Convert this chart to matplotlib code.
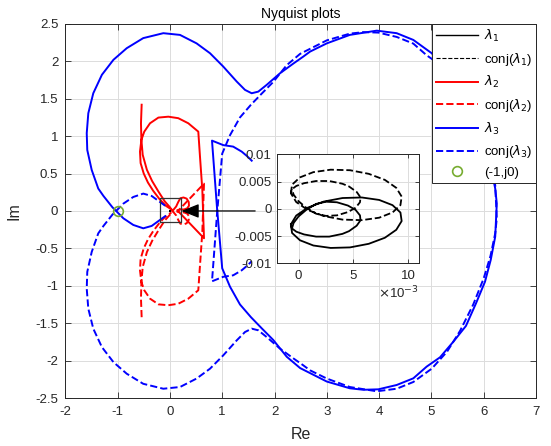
import numpy as np
import matplotlib
matplotlib.use("Agg")
import matplotlib.pyplot as plt
from matplotlib.ticker import FixedFormatter

plt.rcParams['font.family'] = ['Liberation Sans', 'DejaVu Sans']
plt.rcParams['mathtext.fontset'] = 'dejavusans'

# ---- data ----
# lambda_3 (solid); conj(lambda_3) is its mirror about the real axis
l3_re = [-0.09, -0.19, -0.348, -0.509, -0.70, -0.89, -1.10, -1.27, -1.37, -1.495, -1.58, -1.59,
         -1.56, -1.465, -1.30, -1.08, -0.826, -0.51, -0.126, 0.193, 0.51, 0.767, 1.02, 1.277,
         1.436, 1.564, 1.69, 1.85, 2.105, 2.36, 2.55, 2.68, 3.0, 3.44, 3.955, 4.336, 4.654,
         5.006, 5.30, 5.55, 5.80, 6.00, 6.13, 6.22, 6.25, 6.235, 6.22, 6.134, 6.025, 5.853,
         5.66, 5.42, 5.165, 4.91, 4.654, 4.336, 3.985, 3.70, 3.44, 3.0, 2.49, 2.233, 1.977,
         1.755, 1.55, 1.34, 1.149, 1.0, 0.90, 0.805, 1.02, 1.21, 1.373, 1.48, 1.564]
l3_im = [-0.07, -0.12, -0.20, -0.232, -0.187, -0.098, 0.05, 0.20, 0.30, 0.548, 0.815, 1.04,
         1.306, 1.573, 1.82, 2.02, 2.175, 2.31, 2.376, 2.353, 2.24, 2.108, 1.93, 1.73,
         1.618, 1.573, 1.595, 1.685, 1.84, 1.97, 2.063, 2.13, 2.24, 2.353, 2.41, 2.376, 2.286,
         2.108, 1.88, 1.60, 1.25, 0.90, 0.60, 0.30, 0.10, -0.12, -0.343, -0.655, -0.945, -1.234,
         -1.537, -1.747, -1.956, -2.08, -2.237, -2.326, -2.384, -2.39, -2.37, -2.28, -2.10, -1.948, -1.725,
         -1.568, -1.42, -1.25, -1.012, -0.766, 0.05, 0.94, 0.88, 0.86, 0.793, 0.73, 0.672]

# lambda_2 (solid)
l2_re = [-0.54, -0.553, -0.545, -0.52, -0.44, -0.34, -0.22, -0.10, 0.0, 0.05,
         0.12, 0.16, 0.20, 0.26, 0.32, 0.36, 0.365, 0.33, 0.27, 0.20, 0.14,
         0.652, 0.62, 0.575, 0.543,
         0.352, 0.16, -0.03, -0.22, -0.38, -0.49, -0.545, -0.572, -0.56, -0.50, -0.42, -0.32,
         -0.20, -0.08, 0.03]
l2_im = [1.42, 1.17, 0.95, 0.75, 0.55, 0.40, 0.26, 0.13, 0.05, 0.0,
         0.06, 0.12, 0.17, 0.18, 0.165, 0.12, 0.07, 0.035, 0.02, 0.02, 0.01,
         -0.365, 0.28, 0.73, 1.06,
         1.172, 1.24, 1.26, 1.248, 1.172, 1.06, 0.95, 0.793, 0.64, 0.50, 0.38, 0.27,
         0.16, 0.07, 0.02]

# lambda_1 (solid), two loops very close to the origin (values in units of 1e-3)
l1_re = [-0.70, -0.59, 0.13, 1.35, 2.93, 4.69, 6.40, 7.87, 8.91, 9.40, 9.29, 8.57, 7.35,
         5.77, 4.01, 2.30, 0.835, -0.21, -0.70,
         -0.60, -0.20, 0.50, 1.60, 2.80, 4.00, 4.60, 5.30, 5.65, 5.60, 5.20, 4.50, 3.50,
         2.50, 1.60, 0.70, 0.0, -0.45, -0.60]
l1_im = [-2.85, -4.43, -5.77, -6.73, -7.18, -7.08, -6.42, -5.31, -3.85, -2.25, -0.68, 0.67, 1.63,
         2.08, 1.98, 1.33, 0.21, -1.24, -2.85,
         -3.60, -4.20, -4.70, -5.10, -5.10, -4.60, -4.10, -3.10, -2.10, -1.20, -0.20, 0.60, 1.20,
         1.30, 0.90, -0.20, -1.40, -2.60, -3.60]
l1_scale = 1e-3

crit_re, crit_im = [-1.0], [0.0]

labels = [r'$\lambda_1$', r'conj($\lambda_1$)', r'$\lambda_2$', r'conj($\lambda_2$)',
          r'$\lambda_3$', r'conj($\lambda_3$)', '(-1,j0)']

zoom_box_re = [-0.19, 0.207]
zoom_box_im = [-0.143, 0.17]
arrow_from = (1.63, 0.0)
arrow_to = (0.22, 0.0)

# ---- plotting ----
TXT = '#262626'
GREEN = '#77AC30'

l1x = [v * l1_scale for v in l1_re]
l1y = [v * l1_scale for v in l1_im]

def conj(v):
    return [-a for a in v]

fig = plt.figure(figsize=(5.51, 4.46), dpi=100)
ax = fig.add_axes([0.1185, 0.1076, 0.9728 - 0.1185, 0.9464 - 0.1076])

lw = 1.4
ax.plot(l1x, l1y, '-', color='k', lw=1.0, label=labels[0])
ax.plot(l1x, conj(l1y), '--', color='k', lw=0.8, label=labels[1])
ax.plot(l2_re, l2_im, '-', color='red', lw=lw, label=labels[2])
ax.plot(l2_re, conj(l2_im), '--', color='red', lw=lw, label=labels[3])
ax.plot(l3_re, l3_im, '-', color='blue', lw=lw, label=labels[4])
ax.plot(l3_re, conj(l3_im), '--', color='blue', lw=lw, label=labels[5])
ax.plot(crit_re, crit_im, 'o', mfc='none', mec=GREEN, mew=1.2, ms=7, ls='none', label=labels[6])

# zoom rectangle and arrow
bx = [zoom_box_re[0], zoom_box_re[1], zoom_box_re[1], zoom_box_re[0], zoom_box_re[0]]
by = [zoom_box_im[0], zoom_box_im[0], zoom_box_im[1], zoom_box_im[1], zoom_box_im[0]]
ax.plot(bx, by, '-', color='#333333', lw=0.9)
ax.annotate('', xy=arrow_to, xytext=arrow_from,
            arrowprops=dict(arrowstyle='-|>,head_length=0.9,head_width=0.36',
                            color='k', lw=0.9, mutation_scale=12, shrinkA=0, shrinkB=0))

ax.set_xlim(-2, 7)
ax.set_ylim(-2.5, 2.5)
ax.set_xticks(np.arange(-2, 8, 1))
ax.set_yticks(np.arange(-2.5, 2.51, 0.5))
ax.set_yticklabels(['-2.5', '-2', '-1.5', '-1', '-0.5', '0', '0.5', '1', '1.5', '2', '2.5'])
ax.set_xticklabels([str(v) for v in range(-2, 8)])
ax.grid(True, color='#dcdcdc', lw=0.7)
ax.set_axisbelow(True)
ax.tick_params(direction='in', top=True, right=True, labelsize=9.5, colors=TXT, length=4, width=0.6)
ax.tick_params(axis='x', pad=6)
ax.tick_params(axis='y', pad=5)
for s in ax.spines.values():
    s.set_color(TXT)
    s.set_linewidth(0.7)
ax.set_xlabel('Re', fontsize=11.5, color=TXT, labelpad=6)
ax.set_ylabel('Im', fontsize=11.5, color=TXT, labelpad=10)
ax.set_title('Nyquist plots', fontsize=10, color='k', pad=4)

leg = ax.legend(loc='upper right', fontsize=9.5, frameon=True, fancybox=False,
                borderaxespad=0, handlelength=3.2, labelspacing=0.5, handletextpad=0.4,
                borderpad=0.3)
leg.get_frame().set_edgecolor(TXT)
leg.get_frame().set_linewidth(0.7)
leg.get_frame().set_alpha(1)

# inset
iax = fig.add_axes([0.502, 0.4096, 0.2588, 0.2444])
iax.plot(l1x, l1y, '-', color='k', lw=1.3)
iax.plot(l1x, conj(l1y), '--', color='k', lw=1.3)
iax.set_xlim(-0.002, 0.011)
iax.set_ylim(-0.01, 0.01)
iax.set_xticks([0, 0.005, 0.01])
iax.xaxis.set_major_formatter(FixedFormatter(['0', '5', '10']))
iax.set_yticks([-0.01, -0.005, 0, 0.005, 0.01])
iax.set_yticklabels(['-0.01', '-0.005', '0', '0.005', '0.01'])
iax.grid(True, color='#dcdcdc', lw=0.7)
iax.tick_params(direction='in', top=True, right=True, labelsize=9.5, colors=TXT, length=3, width=0.6)
iax.tick_params(axis='x', pad=5)
iax.text(1.0, -0.2, r'$\times$10$^{-3}$', transform=iax.transAxes, ha='right', va='top',
         fontsize=9.5, color=TXT)
for s in iax.spines.values():
    s.set_color(TXT)
    s.set_linewidth(0.7)

fig.savefig('out.png', dpi=100)
